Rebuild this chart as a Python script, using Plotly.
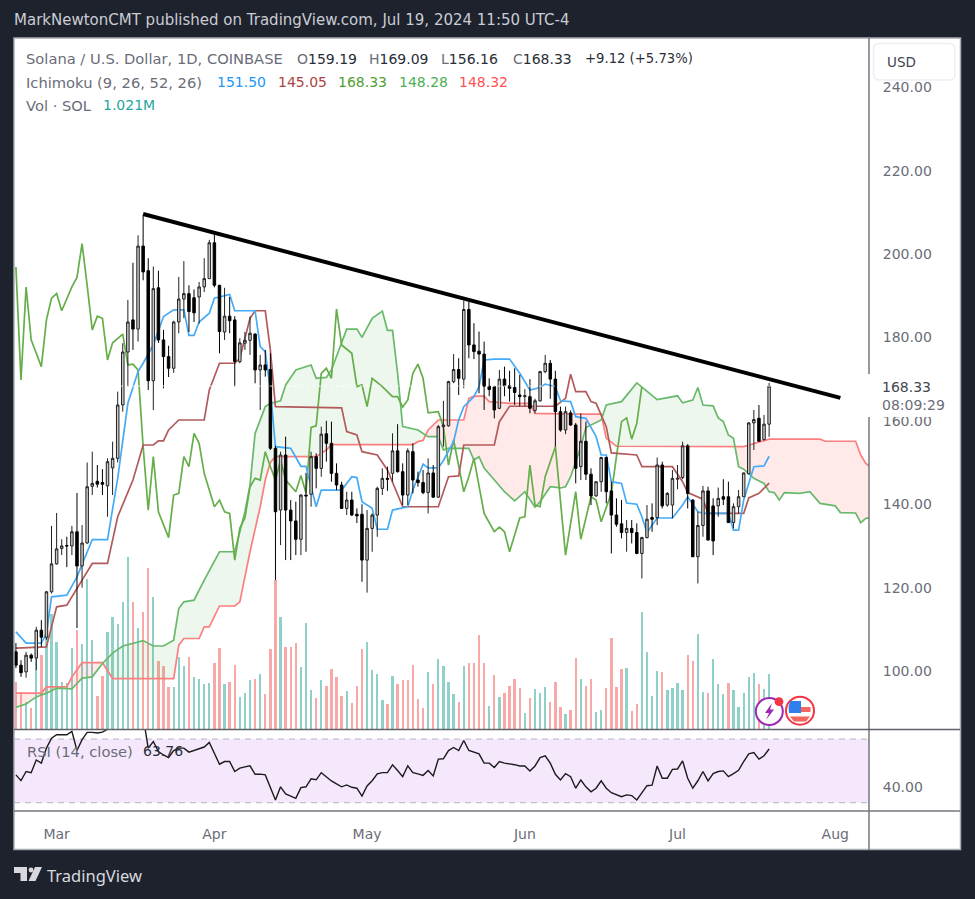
import numpy as np
import pandas as pd
import plotly.graph_objects as go

# ---------- data ----------
first_day = "2024-02-22"
opens = [104.6,101.4,99.8,103.8,103.1,109.8,108.1,119,125.7,129.4,
 130.1,130,133.4,125.2,130.7,144.3,145.5,145.2,144.4,148.7,
 151,163.8,176.5,184.2,182,201.9,196,169.6,191.9,179.4,
 175.4,172.6,183.7,189.2,190.5,189.5,189.7,192.1,194.1,202.7,
 192.5,181.3,185.1,184.2,174.2,178.6,179.3,180.8,172.2,173.4,
 172.3,153.4,138.6,151.8,138.6,136,131.6,142.2,142.4,151.4,
 148.6,156.9,154.6,147.4,144.6,139,141,137.6,137.6,126.6,
 134.2,137.4,143.8,146.2,147.4,152.8,147.8,142.2,152.6,145.8,
 145.2,142.8,147.5,141.7,158.6,158.8,169.4,172.3,170,186.7,
 178.2,176.7,176,168.3,168.2,163,170,168.4,168,166.2,
 165.8,165.8,162.5,164.8,171.8,173.8,170,162.2,157.8,161.9,
 159,149,155.1,147.2,142,145.4,151.2,143.2,137.4,135.3,
 133.2,134.2,133.2,128.2,132,136.8,136.8,149.4,139.8,139.8,
 146,146.4,154,141,127.4,134.9,143.2,139.6,139.6,141.8,
 141.8,135.6,139.4,141.8,147.3,159.5,160.6,155.5,159.19]
highs = [106.7,102.6,104.6,104.2,110.6,112.2,119.2,134.8,137.9,131.6,
 132.2,134.8,142.7,135,150,152.6,149.4,148.4,151,155,
 167,178.6,189,197.9,204.5,209.3,199,197,196,181.8,
 178,184,194.5,198.3,192.5,191.5,193.3,199,203.4,205,
 192.6,191.9,189.7,185.1,179.8,181.3,185,181,175.8,177,
 176.2,154,152.6,156.2,141,140.6,142.4,147.5,152.6,152.2,
 158.6,160,159.8,149.8,145.4,143,143,139,140,138.6,
 137.8,144.2,148.6,149,157,159.2,149.8,153.4,154.6,147.8,
 148.2,151,149.4,159,164.8,169.6,176,175,188.8,188.5,
 183.4,181.4,179,170.2,168.4,172.2,173,172,172.6,171,
 167.6,170,165.3,172,175.8,174.6,172,163.4,163.4,162.5,
 159.5,161.8,159.8,148.6,145.4,151.4,151.4,145.4,141.4,141,
 136.2,136.2,135.4,132.2,139.8,140.2,151.2,150.2,142.9,148.2,
 149.4,155,154.4,141.2,138.2,144.4,144.2,141.4,144,146,
 145.4,140.2,143.4,147.6,159.7,162.6,163.8,161.4,169.09]
lows = [100.7,98.6,98.4,102.2,100.2,105.8,107.5,118.6,125.5,127.8,
 124.9,127.8,110.3,120,130.5,142.2,144,142.2,137,142.2,
 150,162.2,168.2,177,179,193.7,167.4,162.6,178.7,167.8,
 170.5,171.5,181,184.6,181.3,183.7,183.3,190.9,194,192,
 176.2,179.4,181,168.2,173.8,177,175.8,169,162.6,170.6,
 153,121.8,130.2,126.6,126.6,127.8,127.8,128.6,139.4,143.8,
 146.6,150.2,145.4,143.4,138.9,137.4,137.2,135.5,121.4,118.8,
 128.6,132.2,142.2,143.2,145.4,147.6,139.8,139.8,142.6,144.2,
 142.4,137.8,141.5,141.5,153.8,158.6,169,166.2,167.8,175,
 174.8,166.6,162.6,165.9,160.6,162.8,165.9,164.6,163.8,163.5,
 163.5,161.8,161.8,164.6,171.4,165.3,153.8,157.4,156.8,158.8,
 145,145.8,145.8,139.8,141.8,143,140.2,128.2,134.6,131.8,
 128.6,130.6,128,122.2,131.8,133.4,135,139,139.4,136.6,
 143.6,146,139,127.4,121,132.2,131.4,127.8,137,139.8,
 135.6,134.2,137.8,141.8,147.3,153,155.1,155.3,156.16]
closes = [101.4,99.6,103.8,103.1,109.8,108.1,119,125.7,129.3,130,
 130,133.4,125.2,130.7,144.2,145,144.8,144.8,150.2,151,
 163.8,176.5,183.7,182,201.9,195.7,169.6,191.7,179.4,175.4,
 172.6,183.7,189.2,190.5,186.2,185.9,192.1,194.1,202.7,192.5,
 181.4,185.1,184,174.2,178.7,179.3,181,172.2,173.4,172.2,
 153.4,138.2,151.8,138.6,136,131.6,142.2,142,151.4,148.6,
 156.8,154.6,147.4,144.6,139,141,137.4,137.2,126.6,134.2,
 137.4,143.8,146.2,146,152.8,147.8,142.2,152.8,145.8,145.2,
 142.8,147.5,141.7,158.6,159,169.4,172.3,170.2,186.7,178.2,
 176.6,176,168.3,167.5,162.6,170,168.4,167.8,166.8,165.8,
 166,163,164.8,171.8,173.8,170,162.2,157.8,162.2,159,
 148.6,155.1,147.2,142,145.4,151.2,143,137.4,135.2,133.2,
 134.2,133.2,128.2,132,136.4,136.4,149.4,139.6,142.6,146.2,
 146.2,154,142.6,127.4,134.9,143.2,131.4,131.2,141.4,141.2,
 135.6,139.4,141.8,147.5,159.5,160.3,155.1,159.2,168.33]

volume_read = [47.3,37.3,27,20.7,70,74,92,115,86.7,47,
 45.7,80.7,99,85,149.7,89,33,53,97.3,111.7,
 105,127.3,172.3,127.3,100.7,117.3,160.7,131.7,68.3,63,
 41.7,41.7,72.3,63,71.7,51.7,50,44.7,45.7,65.7,
 80.7,44.7,47.3,64,31.7,36.3,49,50,54.7,34.7,
 79.7,149,112.3,82.3,82.3,85.7,61.7,106,39,30.7,
 49,43,60,51.7,33,38,26,43,79.7,86.7,
 59,54.7,29,25,53,45,49,49,64,30,
 20.7,57,44.7,69.7,63,47,35,27,63,65.7,
 65.7,94,65.7,23,54,31.7,36,43,50,40.7,
 16,30.7,40,36,41.7,27,47,21.7,15,19,
 71,50,43,50,16.7,19,40.7,90.7,41.7,60,
 61,18,24.7,117,76.7,33,58,56.7,39,40.7,
 45.7,39,74,68,95,37,36,69.7,45,35,
 45.7,39,21.7,36,52,55.7,44.7,40,54.7]
volume_dir = ("rrgrgrgggg" "ggrgggrrgg" "gggrgrrgrr" "rgggrggggr" "rgrrgggrgr"
              "rrgrrrgggr" "grrrrgrrrg" "gggrgrrrrr" "rgrggggrgr" "rrrgrgrrrr"
              "grgggrrrgr" "rgrrggrrrr" "grrggggrgg" "ggrrggrggg" "rgggggrgg")

rsi = [47.5,43.9,49.6,48.9,56.9,54.9,64.3,70.6,72.7,72.7,
 72.7,74.8,62.8,69.6,74.2,74.2,73.8,74.4,76.2,78,
 82,86,88,86,85,84,64.3,68.5,62.2,60,
 58.4,62.8,64.3,64.3,61.8,62.8,63.9,65,67.9,61.2,
 54.2,55.9,55.9,49.6,51.7,52.5,53.2,47.9,48,47.5,
 39.1,31.7,40,35.5,34.2,32.8,39.5,40,45,44.4,
 48.9,46.4,43.7,41.8,40,41.2,39.7,39.1,34.2,40.5,
 43.8,48.1,48.9,48.9,53.8,50.2,46.4,53.2,48.9,48.1,
 47.2,50.2,46.8,57.4,57.6,62.8,64.7,62.8,69.1,62.8,
 61.8,60.7,54.9,54.9,52.1,55.9,54.9,54.6,53.9,53.1,
 53.1,50,53.1,58.4,59.5,54.9,47.9,44.3,48.3,46.4,
 39.1,44.3,40,36.9,39.1,43.8,39.1,36.3,34.9,33.8,
 34.9,34.5,31.7,36.3,40.7,41,53.1,45.4,45.4,51,
 51.2,56.3,45.4,39.1,43.8,49.6,43.7,48.3,49.6,50,
 46.4,48.3,50.4,55.9,60.7,61.5,57.4,59.5,63.76]

# Ichimoku lines: vertices as (days since 1 Mar 2024, price)
conv_days = [-8,-6,-4,-3,-2,-1,2,4,7,10,12,14,16,17,19,21,23,25,26,27,28,30,31,34,35,39,40,41,42,43,46,48,49,51,52,56,58,59,60,62,63,65,66,69,70,72,73,75,76,78,79,80,82,83,84,86,89,91,93,95,96,98,99,101,102,104,106,107,108,109,111,112,114,115,116,118,121,123,124,126,127,132,133,134,135,136,137,139,140]
conv_vals = [109.4,106.7,106.7,106.7,109,117.8,118.2,122.6,131.5,131.5,146.2,164.2,171.8,173.8,178.2,185,186.6,186.6,180.5,180.5,183.7,185.8,189.4,190.3,186.4,186.4,177.8,176.6,167.4,153.8,153.4,149.1,149.1,139.4,143.4,143.4,146.6,146.4,140.6,139,134,134,138.6,139.4,143.4,149.6,148.7,148.7,150.5,155,160.2,163.4,165.8,168.2,174.6,174.8,174.8,171.4,167.4,168,168.8,168.2,164.8,164.6,161,160.6,156.2,151.8,151.8,145.4,145,140.3,140,137,133.2,136.7,136.7,139.8,141.8,138.2,137.8,137.8,133.8,133.8,141,145,149,149.2,151.5]
base_days = [-8,-2,0,2,5,7,10,12,15,17,19,20,21,22,24,29,30,32,35,36,38,39,41,42,43,56,57,59,60,63,65,68,75,77,79,80,86,87,89,98,100,101,102,104,105,106,108,109,114,115,121,123,124,127,128,135,136,138,140]
base_vals = [105.5,105.8,115.4,115.8,121.8,125.8,125.8,137,145.8,154.2,154.2,155.2,155.2,157.8,160.2,160.2,167.4,173.8,173.8,175,184.6,186.4,186.4,177,163.4,163.1,157.4,156.6,152.6,151.8,148.2,139.4,139.4,146.6,146.8,154.2,154.2,159.8,163.5,163.5,165.4,171.2,167,167,164.6,164.2,158.6,152.3,151.8,149,149,145.4,142.8,141.2,137.8,137.8,141.5,142.6,145.05]
lag_days = [-8,-7,-6,-5,-3,-2,-1,0,1,3,4,5,6,7,8,9,10,11,13,14,15,16,17,18,19,20,22,23,24,25,26,27,28,29,30,31,32,33,34,35,36,37,38,39,40,41,42,43,44,45,47,48,49,50,51,52,53,54,55,56,58,59,60,61,62,64,66,67,68,69,70,71,72,73,75,76,77,78,80,81,82,84,86,87,88,89,91,92,93,94,95,96,98,100,102,103,105,106,107,108,109,110,111,112,113,114,115]
lag_vals = [196.9,169.8,192.1,179.4,173,184.2,189.4,190.5,186.4,192.1,194.4,202.5,192.5,181.8,185.1,184.6,174.6,178.7,180.8,173.4,173.6,172.2,153.8,138.6,151.4,138.2,132,142.2,142.6,151.4,149,157,154.6,147.4,143.4,139.4,141,138.2,137.8,126.6,134.3,136.7,144.2,146.2,145.8,152.6,149,145.8,150.6,145.8,143,146.9,142.7,158.4,158.8,171.4,172.6,170.2,186.8,178.2,176.2,168.2,168.6,163.4,170.2,168.2,165.8,165.8,163.3,165,171.4,173.6,170.2,161.9,162.2,158.6,149.4,155.4,143,146.6,151,137.8,133.4,134.5,133.4,128.6,136.7,137,149.4,139.8,139.4,146.6,153.8,127.8,143,131.6,141.8,141,135.8,139.4,142.6,151.4,159.8,160.7,155.6,159.4,168.33]
span_a_days = [-8,-6,-4,-2,0,3,5,7,9,11,13,17,19,21,23,24,25,27,29,32,35,37,38,39,41,42,44,45,47,50,51,53,54,56,57,59,60,62,64,65,66,67,68,71,73,75,76,77,81,82,83,84,86,88,90,92,94,95,97,99,100,101,103,104,107,108,111,114,118,122,123,125,126,127,129,130,131,132,133,134,135,137,139,140,141,142,143,146,148,150,153,154,157,158,159,160]
span_a_vals = [91.3,92.1,93.8,94.7,95.9,95.7,98.3,98.6,101.8,104.3,106,107.3,106,106,107.4,115,116.6,117,121.8,128.6,128.6,138.2,144.6,157,163.4,164.2,164.8,168.6,172.2,173.4,170.2,170.4,172.2,178.6,182,182,180,184.6,186.3,181.7,181.7,171.4,158.6,157.8,156.2,156.2,153,153.4,153.4,150.6,151.4,148.7,145.8,143,140.8,143,139.3,140.6,144.2,143.9,144.2,146.6,153.8,158.4,160.2,163.8,164.6,169.1,165.1,166,164.3,165,168,163.8,163.6,160.7,159.8,156.6,155.8,149,148.4,146.2,145,143,142.8,141,142.8,142.6,143,140.2,139.6,138,137.9,135.6,136.6,136.8]
span_b_days = [-8,-3,-2,2,3,5,9,11,23,24,25,28,29,30,32,35,36,38,40,41,42,43,51,53,54,70,71,72,73,75,80,81,82,84,85,89,93,94,102,107,108,110,135,140,150,151,157,158,159,160]
span_b_vals = [94.7,94.7,96.2,96.2,98.6,102,102,98.2,98.2,106.2,107.8,107.8,110.6,110.6,115.6,115.6,116.6,128.6,139.4,145.8,150,151.4,151.4,153,154.3,154.3,155,155.3,157.8,160.2,160.2,165.4,165.9,165.9,164.6,164.2,164.2,161.8,161.6,161.6,155.8,153.9,153.8,155.6,155.6,155.1,155.1,151.8,149.8,148.8]

trend_days = [17, 154]
trend_vals = [209.6, 165.5]

price_ticks = [100, 120, 140, 160, 180, 200, 220, 240]
rsi_ticks = [40]
rsi_band = [30, 70]
month_ticks = ["2024-03-01", "2024-04-01", "2024-05-01", "2024-06-01", "2024-07-01", "2024-08-01"]
month_labels = ["Mar", "Apr", "May", "Jun", "Jul", "Aug"]
last_close = 168.33

# ---------- helpers ----------
W, H = 975, 899
FONT = "DejaVu Sans"
GREY = "#6a6d78"
origin = pd.Timestamp("2024-03-01")
def to_dates(days):
    return [origin + pd.Timedelta(days=float(d)) for d in days]
def fx(px): return px / W
def fy(py): return 1 - py / H

dates = pd.date_range(first_day, periods=len(opens), freq="D")
vol_colors = ["#8fd1c9" if c == "g" else "#f8a8a6" for c in volume_dir]

fig = go.Figure()

# volume (lowest layer)
fig.add_trace(go.Bar(x=dates, y=volume_read, marker=dict(color=vol_colors, line=dict(width=0)),
                     width=0.46 * 86400000, xaxis="x", yaxis="y", hoverinfo="skip"))

# cloud
grid = np.arange(-8.0, 160.25, 0.25)
a_i = np.interp(grid, span_a_days, span_a_vals)
b_i = np.interp(grid, span_b_days, span_b_vals)
upper = np.maximum(a_i, b_i)
grid_dates = to_dates(grid)
poly_x = grid_dates + grid_dates[::-1]
fig.add_trace(go.Scatter(x=poly_x, y=list(upper) + list(b_i[::-1]), fill="toself", mode="none",
                         fillcolor="rgba(76,175,80,0.10)", xaxis="x", yaxis="y3", hoverinfo="skip"))
fig.add_trace(go.Scatter(x=poly_x, y=list(upper) + list(a_i[::-1]), fill="toself", mode="none",
                         fillcolor="rgba(255,82,82,0.13)", xaxis="x", yaxis="y3", hoverinfo="skip"))

def line(days, vals, color, width=1.7):
    fig.add_trace(go.Scatter(x=to_dates(days), y=vals, mode="lines", line=dict(color=color, width=width),
                             xaxis="x", yaxis="y3", hoverinfo="skip"))
line(span_b_days, span_b_vals, "#fb7f7f")
line(span_a_days, span_a_vals, "#68b96c")
line(lag_days, lag_vals, "#65ae4a")
line(base_days, base_vals, "#b25a5a")
line(conv_days, conv_vals, "#46abf6")

# candles above the lines
fig.add_trace(go.Candlestick(x=dates, open=opens, high=highs, low=lows, close=closes,
                             increasing=dict(line=dict(color="#222222", width=1), fillcolor="#c9c9c9"),
                             decreasing=dict(line=dict(color="#000000", width=1), fillcolor="#000000"),
                             whiskerwidth=0, xaxis="x", yaxis="y4", hoverinfo="skip"))

# last price dotted line and trend line on the very top
fig.add_trace(go.Scatter(x=["2024-02-20", "2024-08-09"], y=[last_close, last_close], mode="lines",
                         line=dict(color="rgba(255,255,255,0.85)", width=1, dash="dot"),
                         xaxis="x", yaxis="y5", hoverinfo="skip"))
fig.add_trace(go.Scatter(x=to_dates(trend_days), y=trend_vals, mode="lines",
                         line=dict(color="#000000", width=4), xaxis="x", yaxis="y5", hoverinfo="skip"))

# RSI
fig.add_trace(go.Scatter(x=dates, y=rsi, mode="lines", line=dict(color="#1b1b1b", width=1.4),
                         xaxis="x2", yaxis="y2", hoverinfo="skip"))

x_range = ["2024-02-21 15:00", "2024-08-07 15:00"]
price_range = [86.1, 251.8]
main_dom = [fy(729), fy(38)]
rsi_dom = [fy(811), fy(730)]
x_dom = [fx(14), fx(869)]
tickfont = dict(family=FONT, size=14, color=GREY)

shapes = [
    dict(type="rect", xref="paper", yref="paper", x0=fx(14), x1=fx(961), y0=fy(850), y1=fy(38),
         fillcolor="#ffffff", line=dict(width=0), layer="below"),
    dict(type="rect", xref="x2 domain", yref="y2", x0=0, x1=1, y0=rsi_band[0], y1=rsi_band[1],
         fillcolor="#f5e8fd", line=dict(width=0), layer="below"),
]
for level in rsi_band:
    shapes.append(dict(type="line", xref="x2 domain", yref="y2", x0=0, x1=1, y0=level, y1=level,
                       line=dict(color="#b4b6bd", width=1, dash="6px,5px"), layer="below"))
# frame and pane separators
shapes += [
    dict(type="rect", xref="paper", yref="paper", x0=fx(14), x1=fx(960.5), y0=fy(849.5), y1=fy(38),
         line=dict(color="#a9abb3", width=1.5), fillcolor="rgba(0,0,0,0)"),
    dict(type="line", xref="paper", yref="paper", x0=fx(869), x1=fx(869), y0=fy(850), y1=fy(38),
         line=dict(color="#74777f", width=1.5)),
    dict(type="line", xref="paper", yref="paper", x0=fx(14), x1=fx(960), y0=fy(729.5), y1=fy(729.5),
         line=dict(color="#5f626a", width=1.5)),
    dict(type="line", xref="paper", yref="paper", x0=fx(14), x1=fx(960), y0=fy(811), y1=fy(811),
         line=dict(color="#74777f", width=1.5)),
    # price label box that covers the axis
    dict(type="rect", xref="paper", yref="paper", x0=fx(868), x1=fx(958), y0=fy(417), y1=fy(374),
         fillcolor="#ffffff", line=dict(width=0)),
]
def rounded(x0, y0, x1, y1, r):
    return (f"M {fx(x0+r)} {fy(y0)} L {fx(x1-r)} {fy(y0)} Q {fx(x1)} {fy(y0)} {fx(x1)} {fy(y0+r)} "
            f"L {fx(x1)} {fy(y1-r)} Q {fx(x1)} {fy(y1)} {fx(x1-r)} {fy(y1)} L {fx(x0+r)} {fy(y1)} "
            f"Q {fx(x0)} {fy(y1)} {fx(x0)} {fy(y1-r)} L {fx(x0)} {fy(y0+r)} Q {fx(x0)} {fy(y0)} {fx(x0+r)} {fy(y0)} Z")
def circle(cx, cy, r, fill, line_color=None, lw=2):
    return dict(type="circle", xref="paper", yref="paper", x0=fx(cx-r), x1=fx(cx+r), y0=fy(cy+r), y1=fy(cy-r),
                fillcolor=fill, line=dict(color=line_color or fill, width=lw))
def poly(points, fill):
    d = "M " + " L ".join(f"{fx(a)} {fy(b)}" for a, b in points) + " Z"
    return dict(type="path", xref="paper", yref="paper", path=d, fillcolor=fill, line=dict(width=0))
shapes.append(dict(type="path", xref="paper", yref="paper", path=rounded(873.5, 43.5, 955, 80, 6),
                   fillcolor="#ffffff", line=dict(color="#eceef3", width=1.5)))
# purple lightning badge
shapes.append(circle(769.3, 711.5, 13.5, "#ffffff", "#9c27b0", 2))
shapes.append(poly([(772, 703), (765, 713), (769, 713), (766, 720), (774, 709.5), (770, 709.5)], "#9c27b0"))
shapes.append(circle(779, 701.7, 3.4, "#f23645"))
# flag badge
shapes.append(circle(800, 710.7, 14, "#ffffff", "#f23645", 2))
shapes.append(poly([(790, 701), (801, 701), (801, 713), (789, 713), (788.5, 707)], "#2f80ed"))
shapes.append(poly([(801, 707), (810.5, 707), (810.5, 712), (801, 712)], "#f4655f"))
shapes.append(poly([(790, 716.5), (810, 716.5), (806, 721.5), (794, 721.5)], "#f4655f"))
# logo
shapes.append(poly([(14, 867), (27, 867), (27, 881), (20.5, 881), (20.5, 873), (14, 873)], "#d8d9de"))
shapes.append(circle(31, 870, 2.4, "#d8d9de", lw=0))
shapes.append(poly([(35, 867), (42, 867), (35.5, 881), (28.5, 881)], "#d8d9de"))

def note(px, py, text, size=14, color=GREY, family=FONT):
    return dict(xref="paper", yref="paper", x=fx(px - 2), y=fy(py), xanchor="left", yanchor="middle",
                text=text, showarrow=False, font=dict(family=family, size=size, color=color))
def ohlc(letter, val):
    return f'{letter}<span style="color:#2a2e39">{val}</span>'

annotations = [
    note(14, 20, "MarkNewtonCMT published on TradingView.com, Jul 19, 2024 11:50 UTC-4", 15, "#c9ccd4"),
    note(26, 59, "Solana / U.S. Dollar, 1D, COINBASE", 14.7),
    note(297, 59, ohlc("O", "159.19")), note(369, 59, ohlc("H", "169.09")),
    note(441, 59, ohlc("L", "156.16")), note(513, 59, ohlc("C", "168.33")),
    note(585, 59, "+9.12 (+5.73%)", 13.2, color="#2a2e39"),
    note(26, 82, "Ichimoku (9, 26, 52, 26)", 14.7),
    note(217, 82, "151.50", color="#2196f3"), note(278, 82, "145.05", color="#a94442"),
    note(338, 82, "168.33", color="#4f9e31"), note(399, 82, "148.28", color="#4caf50"),
    note(459, 82, "148.32", color="#ff5252"),
    note(26, 105, "Vol · SOL", 14.7), note(103, 105, "1.021M", color="#26a69a"),
    note(27, 751, "RSI (14, close)", 14.7), note(143, 751, "63.76", color="#2a2e39"),
    note(887, 62, "USD", 13.5, "#434651"),
    note(882, 387, "168.33", 14, "#434651"),
    note(882, 405, "08:09:29", 14, "#6a6d78"),
    note(47, 875, "TradingView", 16.5, "#d8d9de", family="Noto Sans"),
]

fig.update_layout(
    width=W, height=H, margin=dict(l=0, r=0, t=0, b=0), showlegend=False,
    paper_bgcolor="#1e222d", plot_bgcolor="rgba(0,0,0,0)", bargap=0, hovermode=False,
    xaxis=dict(domain=x_dom, range=x_range, anchor="y", showticklabels=False, showgrid=False,
               zeroline=False, ticks="", rangeslider=dict(visible=False), type="date"),
    xaxis2=dict(domain=x_dom, range=x_range, anchor="y2", tickvals=month_ticks, ticktext=month_labels,
                showgrid=False, zeroline=False, ticks="outside", ticklen=10, tickcolor="rgba(0,0,0,0)",
                tickfont=tickfont, type="date"),
    yaxis=dict(domain=main_dom, range=[0, 691], visible=False),
    yaxis3=dict(domain=main_dom, range=price_range, overlaying="y", side="right", anchor="x",
                tickvals=price_ticks, ticktext=[f"{v:.2f}" for v in price_ticks], showgrid=False,
                zeroline=False, ticks="outside", ticklen=10, tickcolor="rgba(0,0,0,0)", tickfont=tickfont),
    yaxis4=dict(domain=main_dom, range=price_range, overlaying="y", visible=False),
    yaxis5=dict(domain=main_dom, range=price_range, overlaying="y", visible=False),
    yaxis2=dict(domain=rsi_dom, range=[24.8, 75.7], side="right", anchor="x2", tickvals=rsi_ticks,
                ticktext=[f"{v:.2f}" for v in rsi_ticks], showgrid=False, zeroline=False, ticks="outside",
                ticklen=10, tickcolor="rgba(0,0,0,0)", tickfont=tickfont),
    shapes=shapes, annotations=annotations,
)

fig.write_html("out.html", config=dict(displayModeBar=False),
               post_script="document.body.style.margin='0';document.documentElement.style.background='#1e222d';")
